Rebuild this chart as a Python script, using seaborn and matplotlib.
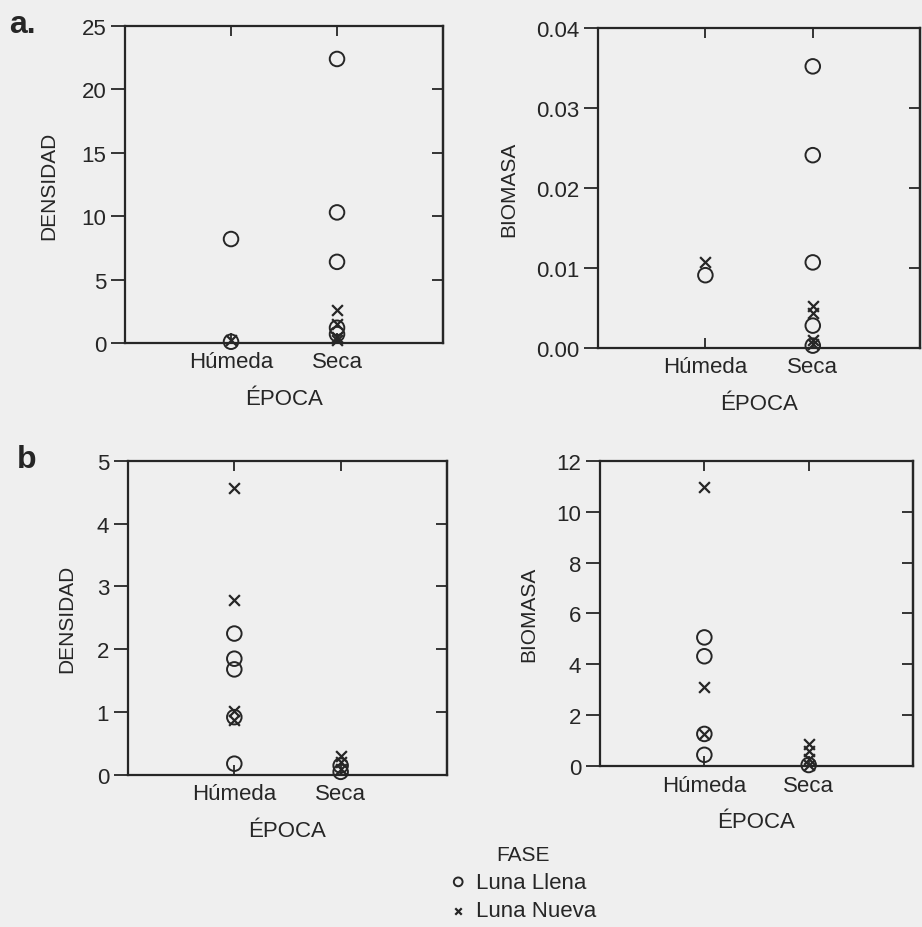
import pandas as pd
import seaborn as sns
import matplotlib.pyplot as plt

# categories
epocas = ['Húmeda', 'Seca']
fases = ['Luna Llena', 'Luna Nueva']

# a. densidad
a_dens_llena_hum = [8.2, 0.1]
a_dens_llena_seca = [22.4, 10.3, 6.4, 1.2, 0.7]
a_dens_nueva_hum = [0.2]
a_dens_nueva_seca = [2.6, 1.5, 0.5, 0.2]

# a. biomasa
a_bio_llena_hum = [0.0091]
a_bio_llena_seca = [0.0352, 0.0241, 0.0107, 0.0028, 0.0003]
a_bio_nueva_hum = [0.0108]
a_bio_nueva_seca = [0.0052, 0.0044, 0.0010, 0.0005]

# b. densidad
b_dens_llena_hum = [2.25, 1.85, 1.68, 0.92, 0.18]
b_dens_llena_seca = [0.15, 0.05]
b_dens_nueva_hum = [4.56, 2.78, 1.02, 0.88]
b_dens_nueva_seca = [0.3, 0.2, 0.1]

# b. biomasa
b_bio_llena_hum = [5.06, 4.32, 1.27, 0.45]
b_bio_llena_seca = [0.05]
b_bio_nueva_hum = [10.95, 3.1, 1.27]
b_bio_nueva_seca = [0.87, 0.6, 0.3, 0.05]


def make_df(llena_hum, llena_seca, nueva_hum, nueva_seca):
    rows = []
    for v in llena_hum:
        rows.append(('Húmeda', 'Luna Llena', v))
    for v in llena_seca:
        rows.append(('Seca', 'Luna Llena', v))
    for v in nueva_hum:
        rows.append(('Húmeda', 'Luna Nueva', v))
    for v in nueva_seca:
        rows.append(('Seca', 'Luna Nueva', v))
    df = pd.DataFrame(rows, columns=['EPOCA', 'FASE', 'valor'])
    df['pos'] = df['EPOCA'].map({e: i for i, e in enumerate(epocas)})
    return df


bg = '#efefef'
ink = '#262626'
sns.set_theme(style='ticks')
plt.rcParams['font.family'] = ['Liberation Sans', 'DejaVu Sans']
plt.rcParams['text.color'] = ink
plt.rcParams['axes.labelcolor'] = ink
plt.rcParams['xtick.color'] = ink
plt.rcParams['ytick.color'] = ink

fig = plt.figure(figsize=(9.22, 9.28), dpi=100, facecolor=bg)

# (data, axes rect, ylabel, ylim, yticks, tick format, ylabel pad)
panels = [
    (make_df(a_dens_llena_hum, a_dens_llena_seca, a_dens_nueva_hum, a_dens_nueva_seca),
     [0.1356, 0.6293, 0.3449, 0.3416], 'DENSIDAD', (0, 25), [0, 5, 10, 15, 20, 25], '{:.0f}', 17),
    (make_df(a_bio_llena_hum, a_bio_llena_seca, a_bio_nueva_hum, a_bio_nueva_seca),
     [0.6486, 0.6239, 0.3494, 0.3449], 'BIOMASA', (0, 0.04), [0, 0.01, 0.02, 0.03, 0.04], '{:.2f}', 13),
    (make_df(b_dens_llena_hum, b_dens_llena_seca, b_dens_nueva_hum, b_dens_nueva_seca),
     [0.1388, 0.1638, 0.3460, 0.3387], 'DENSIDAD', (0, 5), [0, 1, 2, 3, 4, 5], '{:.0f}', 15),
    (make_df(b_bio_llena_hum, b_bio_llena_seca, b_bio_nueva_hum, b_bio_nueva_seca),
     [0.6508, 0.1732, 0.3394, 0.3293], 'BIOMASA', (0, 12), [0, 2, 4, 6, 8, 10, 12], '{:.0f}', 13),
]

for df, rect, ylab, ylim, yticks, fmt, pad in panels:
    ax = fig.add_axes(rect)
    ax.set_facecolor(bg)
    llena = df[df['FASE'] == 'Luna Llena']
    nueva = df[df['FASE'] == 'Luna Nueva']
    sns.scatterplot(data=llena, x='pos', y='valor', marker='o', s=110,
                    facecolors='none', edgecolor=ink, linewidth=1.4,
                    label='Luna Llena', ax=ax, clip_on=False, zorder=3)
    sns.scatterplot(data=nueva, x='pos', y='valor', marker='x', s=60,
                    color=ink, linewidth=1.6, label='Luna Nueva', ax=ax,
                    clip_on=False, zorder=3)
    ax.set_xlim(-1, 2)
    ax.set_ylim(*ylim)
    ax.set_xticks(range(len(epocas)))
    ax.set_xticklabels(epocas)
    ax.set_yticks(yticks)
    ax.set_yticklabels([fmt.format(t) for t in yticks])
    ax.set_xlabel('ÉPOCA', fontsize=16, labelpad=11)
    ax.set_ylabel(ylab, fontsize=15, labelpad=pad)
    ax.tick_params(axis='y', left=True, right=False, labelsize=16,
                   direction='out', length=10, width=1.3)
    ax.tick_params(axis='x', top=True, bottom=True, direction='in', length=7,
                   width=1.3, labelsize=16, pad=6)
    # inward ticks on the right spine
    ax2 = ax.secondary_yaxis('right')
    ax2.set_yticks(yticks)
    ax2.tick_params(axis='y', direction='in', length=8, width=1.3, labelright=False)
    ax2.spines['right'].set_linewidth(1.6)
    ax2.spines['right'].set_color(ink)
    for sp in ax.spines.values():
        sp.set_linewidth(1.6)
        sp.set_color(ink)
        sp.set_visible(True)
    handles, labels = ax.get_legend_handles_labels()
    ax.get_legend().remove()

fig.text(0.0098, 0.9644, 'a.', fontsize=23, fontweight='bold', va='baseline')
fig.text(0.018, 0.4957, 'b', fontsize=23, fontweight='bold', va='baseline')

leg = fig.legend(handles, labels, title='FASE', loc='upper center',
                 bbox_to_anchor=(0.567, 0.11), frameon=False, fontsize=16,
                 title_fontsize=15, handletextpad=0.4, labelspacing=0.35,
                 handlelength=0.8, markerscale=0.6)

fig.savefig('out.png', dpi=100, facecolor=bg)
